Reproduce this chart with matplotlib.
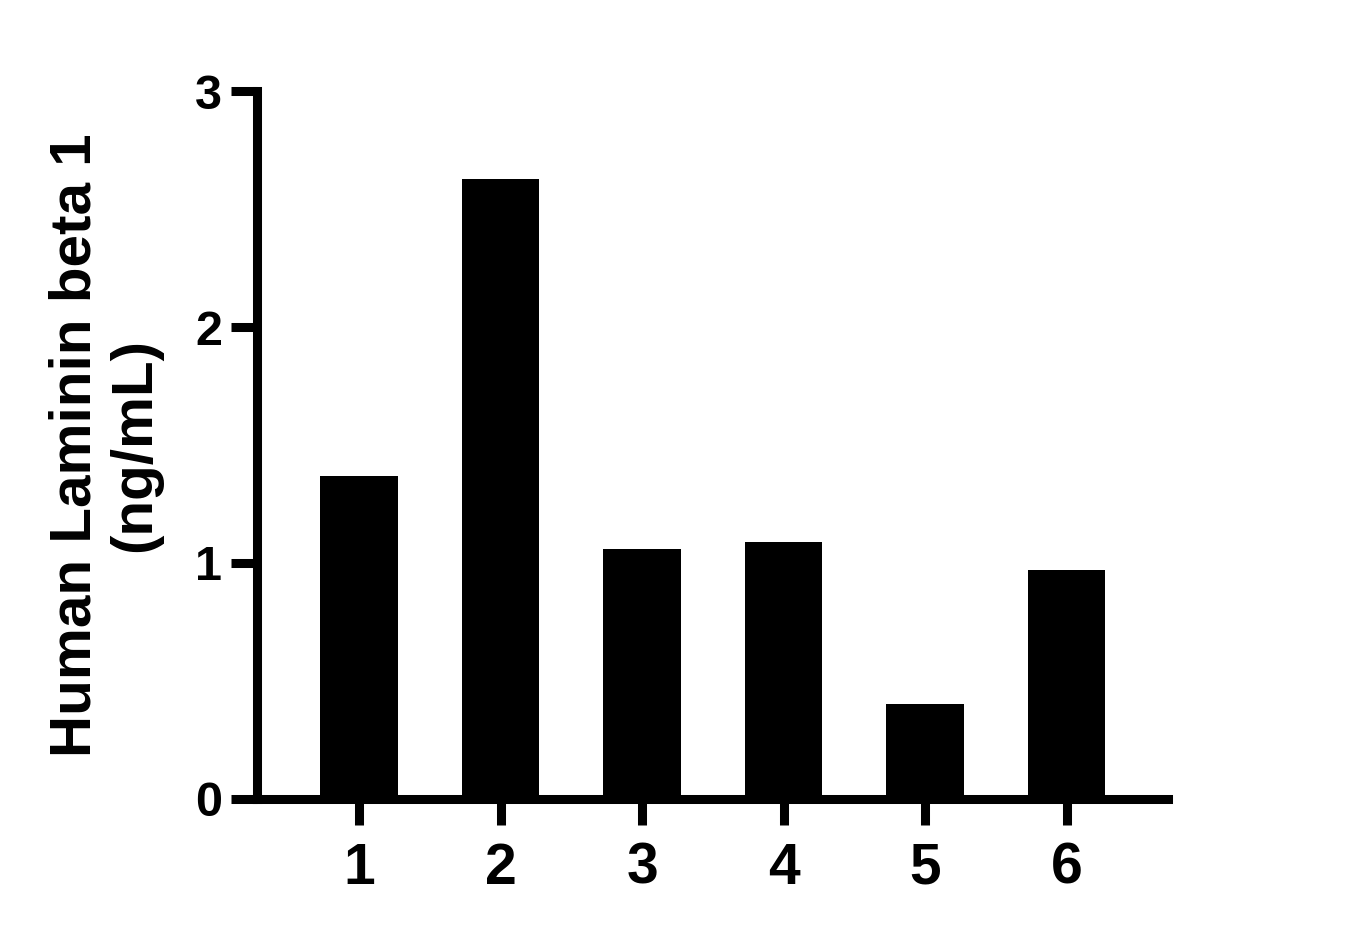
import matplotlib.pyplot as plt

plt.rcParams['font.family'] = ['Liberation Sans', 'DejaVu Sans']
plt.rcParams['font.weight'] = 'bold'

# sample numbers and measured concentrations
samples = ['1', '2', '3', '4', '5', '6']
values = [1.37, 2.63, 1.06, 1.09, 0.40, 0.97]
y_ticks = [0, 1, 2, 3]

fig = plt.figure(figsize=(13.49, 9.39), dpi=100)
ax = fig.add_axes([0.1905, 0.1496, 0.6753, 0.753])

pos = list(range(1, len(samples) + 1))
ax.bar(pos, values, width=0.55, color='black', zorder=1)

ax.set_xlim(0.279, 6.717)
ax.set_ylim(0, 3)
ax.set_xticks(pos)
ax.set_xticklabels(samples, fontsize=41, fontweight='bold')
ax.set_yticks(y_ticks)
ax.set_yticklabels([str(t) for t in y_ticks], fontsize=35, fontweight='bold')

for side in ['top', 'right']:
    ax.spines[side].set_visible(False)
for side in ['left', 'bottom']:
    ax.spines[side].set_linewidth(6.5)
    ax.spines[side].set_capstyle('projecting')

ax.tick_params(axis='both', width=6.5, length=19, direction='out')
ax.tick_params(axis='x', pad=12)
ax.tick_params(axis='y', pad=6)

ax.set_ylabel('Human Laminin beta 1\n(ng/mL)', fontsize=42, fontweight='bold',
              linespacing=1.12, labelpad=24)

fig.savefig('out.png', dpi=100)
